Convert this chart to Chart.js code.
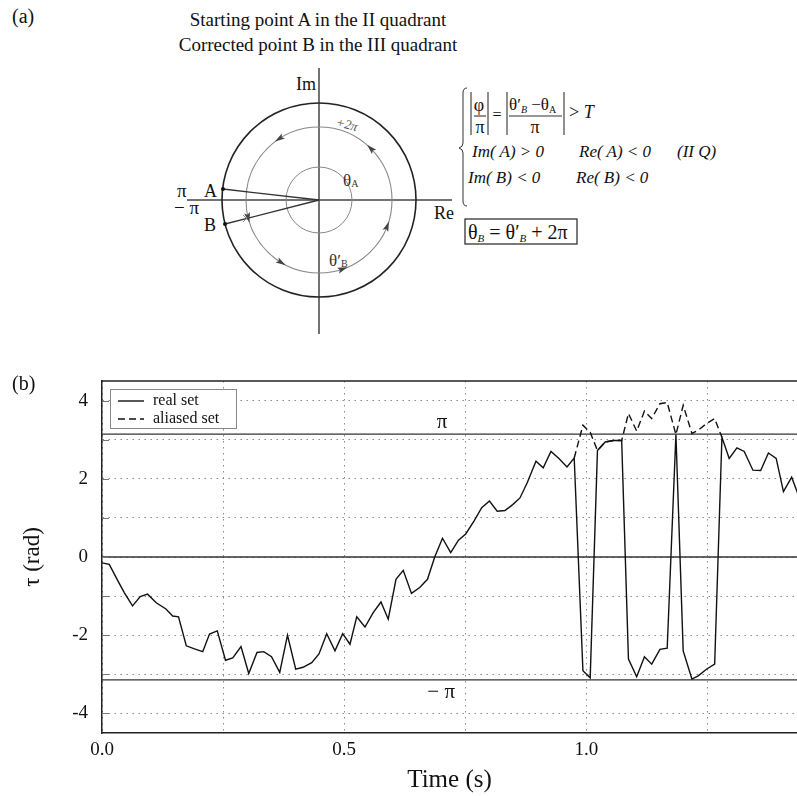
<!DOCTYPE html>
<html>
<head>
<meta charset="utf-8">
<title>Phase unwrapping</title>
<script src="https://cdn.jsdelivr.net/npm/chart.js@4.4.1/dist/chart.umd.min.js"></script>
<style>
  html, body { margin: 0; padding: 0; background: #fff; overflow: hidden; }
  body { width: 797px; height: 796px; position: relative; font-family: "Liberation Serif", serif; color: #111; }
  #diagram { position: absolute; left: 0; top: 0; }
  #tau { position: absolute; left: 0; top: 340px; }
  #panelB { position: absolute; left: 12px; top: 372px; font-size: 20px; }
</style>
</head>
<body>

<!-- panel (a): unit circle sketch and wrap condition -->
<svg id="diagram" width="797" height="338" viewBox="0 0 797 338" font-family="Liberation Serif, serif" fill="#111">
  <text x="12" y="23" font-size="20">(a)</text>
  <text x="318" y="26" font-size="19" text-anchor="middle">Starting point A in the II quadrant</text>
  <text x="318" y="51" font-size="19" text-anchor="middle">Corrected point B in the III quadrant</text>

  <g fill="none">
    <line x1="319" y1="68" x2="319" y2="334" stroke="#444" stroke-width="1.5"/>
    <line x1="187" y1="200" x2="452" y2="200" stroke="#444" stroke-width="1.5"/>
    <circle cx="319" cy="200" r="97" stroke="#222" stroke-width="1.6"/>
    <circle cx="319" cy="200" r="73" stroke="#888" stroke-width="1.1"/>
    <circle cx="319" cy="200" r="33" stroke="#888" stroke-width="1"/>
    <line x1="319" y1="200" x2="223" y2="189" stroke="#333" stroke-width="1.3"/>
    <line x1="319" y1="200" x2="225" y2="224" stroke="#333" stroke-width="1.3"/>
    <path d="M243,215 l7,7 M250,215 l-7,7" stroke="#888" stroke-width="1"/>
  </g>
  <circle cx="223" cy="189" r="2"/>
  <circle cx="225" cy="224" r="2"/>
  <g id="arrows" fill="#444"></g>

  <text x="177" y="197" font-size="19">π</text>
  <text x="204" y="197" font-size="18">A</text>
  <text x="174" y="214" font-size="19">− π</text>
  <text x="204" y="231" font-size="18">B</text>
  <text x="296" y="90" font-size="18">Im</text>
  <text x="434" y="219" font-size="18">Re</text>
  <text x="336" y="128" font-size="13" font-style="italic" fill="#555" transform="rotate(14 344 124)">+2π</text>
  <text x="343" y="186" font-size="17" fill="#333">θ<tspan font-size="10" dy="1">A</tspan></text>
  <text x="329" y="266" font-size="17" fill="#333">θ′<tspan font-size="10" dy="1">B</tspan></text>

  <!-- condition block -->
  <path d="M467,88 q-4,0 -4,5 v50 q0,4 -4,5 q4,1 4,5 v48 q0,5 4,5" fill="none" stroke="#333" stroke-width="1"/>
  <g stroke="#333" stroke-width="1.1">
    <line x1="471" y1="92" x2="471" y2="135"/>
    <line x1="488" y1="92" x2="488" y2="135"/>
    <line x1="507" y1="92" x2="507" y2="135"/>
    <line x1="564" y1="92" x2="564" y2="135"/>
    <line x1="474" y1="116" x2="486" y2="116"/>
    <line x1="509" y1="116" x2="562" y2="116"/>
  </g>
  <text x="479" y="111" font-size="18" text-anchor="middle">φ</text>
  <text x="480" y="133" font-size="18" text-anchor="middle">π</text>
  <text x="497" y="120" font-size="16" text-anchor="middle">=</text>
  <text x="509" y="110" font-size="17">θ′<tspan font-size="10" font-style="italic" dy="3">B</tspan><tspan dy="-3"> −θ</tspan><tspan font-size="10" dy="3">A</tspan></text>
  <text x="535" y="133" font-size="18" text-anchor="middle">π</text>
  <text x="569" y="118" font-size="18">&gt; <tspan font-style="italic">T</tspan></text>

  <g font-size="17" font-style="italic">
    <text x="472" y="157">Im( A) &gt; 0</text>
    <text x="579" y="157">Re( A) &lt; 0</text>
    <text x="677" y="157">(II  Q)</text>
    <text x="468" y="183">Im( B) &lt; 0</text>
    <text x="576" y="183">Re( B) &lt; 0</text>
  </g>

  <rect x="465" y="219" width="112" height="25" fill="none" stroke="#333" stroke-width="1.3"/>
  <text x="468" y="239" font-size="20">θ<tspan font-size="11" font-style="italic" dy="3">B</tspan><tspan dy="-3"> = θ′</tspan><tspan font-size="11" font-style="italic" dy="3">B</tspan><tspan dy="-3"> + 2π</tspan></text>
</svg>

<canvas id="tau" width="797" height="456"></canvas>
<div id="panelB">(b)</div>

<script>
// sampled phase, real (unwrapped-to-range) set
const times = [0.000, 0.015, 0.032, 0.046, 0.063, 0.079, 0.094, 0.112, 0.132, 0.146,
  0.158, 0.174, 0.191, 0.208, 0.222, 0.238, 0.255, 0.270, 0.287, 0.303,
  0.320, 0.334, 0.350, 0.367, 0.383, 0.400, 0.415, 0.433, 0.448, 0.464,
  0.481, 0.497, 0.512, 0.526, 0.543, 0.560, 0.576, 0.591, 0.607, 0.622,
  0.639, 0.656, 0.672, 0.687, 0.703, 0.720, 0.736, 0.751, 0.768, 0.784,
  0.800, 0.816, 0.832, 0.848, 0.863, 0.878, 0.896, 0.911, 0.927, 0.944,
  0.960, 0.975, 0.993, 1.008, 1.023, 1.039, 1.056, 1.073, 1.087, 1.104,
  1.120, 1.135, 1.152, 1.167, 1.185, 1.200, 1.218, 1.231, 1.248, 1.265,
  1.280, 1.295, 1.311, 1.326, 1.344, 1.360, 1.376, 1.392, 1.407, 1.424, 1.440];
const realTau = [-0.15, -0.19, -0.59, -0.91, -1.25, -1.01, -0.95, -1.17, -1.33, -1.51,
  -1.53, -2.27, -2.35, -2.42, -1.97, -1.89, -2.64, -2.58, -2.29, -2.98,
  -2.44, -2.42, -2.55, -2.95, -2.00, -2.87, -2.82, -2.70, -2.48, -1.96,
  -2.40, -1.96, -2.23, -1.53, -1.79, -1.42, -1.15, -1.59, -0.57, -0.34,
  -0.93, -0.78, -0.57, 0.00, 0.48, 0.11, 0.43, 0.59, 0.92, 1.26,
  1.43, 1.17, 1.19, 1.34, 1.51, 1.90, 2.45, 2.28, 2.70, 2.51,
  2.30, 2.53, -2.91, -3.09, 2.72, 2.94, 2.98, 2.98, -2.61, -3.06,
  -2.55, -2.74, -2.36, -2.33, 3.13, -2.40, -3.12, -3.04, -2.87, -2.74,
  3.06, 2.52, 2.79, 2.70, 2.22, 2.21, 2.66, 2.52, 1.67, 2.04, 1.51];

// aliased set, only where it leaves the real one
const aliasTimes = [0.975, 0.993, 1.008, 1.023, 1.039, 1.056, 1.073, 1.087, 1.104, 1.120,
  1.135, 1.152, 1.167, 1.185, 1.200, 1.218, 1.231, 1.248, 1.265, 1.280];
const aliasTau = [2.53, 3.37, 3.19, 2.72, 2.94, 2.98, 2.98, 3.67, 3.22, 3.73,
  3.54, 3.92, 3.95, 3.13, 3.88, 3.16, 3.24, 3.41, 3.54, 3.06];

const xGrid = [0, 0.25, 0.5, 0.75, 1.0, 1.25];
const xLabelled = [0, 0.5, 1.0];
const yGrid = [-4, -3, -2, -1, 0, 1, 2, 3, 4];
const yLabelled = [-4, -2, 0, 2, 4];
const refLevels = [0, Math.PI, -Math.PI];
const xMax = 1.435;

const serif = '"Liberation Serif", "Times New Roman", serif';

// arrowheads running round the middle circle
(function () {
  const g = document.getElementById('arrows');
  const cx = 319, cy = 200, r = 73;
  [123, 45, 194, 239, 289, 339].forEach(function (deg) {
    const a = deg * Math.PI / 180;
    const px = cx + r * Math.cos(a), py = cy - r * Math.sin(a);
    const dir = Math.atan2(-Math.cos(a), -Math.sin(a)) * 180 / Math.PI;
    const p = document.createElementNS('http://www.w3.org/2000/svg', 'path');
    p.setAttribute('d', 'M5,0 L-5,-3 L-3,0 L-5,3 Z');
    p.setAttribute('transform', 'translate(' + px.toFixed(1) + ',' + py.toFixed(1) + ') rotate(' + dir.toFixed(1) + ')');
    g.appendChild(p);
  });
})();

function pairs(xs, ys) {
  return xs.map(function (t, i) { return { x: t, y: ys[i] }; });
}

const extras = {
  id: 'extras',
  afterDatasetsDraw(chart) {
    const ctx = chart.ctx, a = chart.chartArea, x = chart.scales.x, y = chart.scales.y;
    ctx.save();
    // top frame
    ctx.strokeStyle = '#222';
    ctx.lineWidth = 1.5;
    ctx.beginPath();
    ctx.moveTo(a.left, a.top);
    ctx.lineTo(a.right, a.top);
    ctx.stroke();

    // short ticks inside the left edge
    ctx.strokeStyle = '#777';
    ctx.lineWidth = 1;
    yGrid.forEach(function (v) {
      const py = Math.round(y.getPixelForValue(v)) + 0.5;
      ctx.beginPath();
      ctx.moveTo(a.left, py);
      ctx.lineTo(a.left + 7, py);
      ctx.stroke();
    });

    // level labels
    ctx.fillStyle = '#111';
    ctx.font = '21px ' + serif;
    ctx.textBaseline = 'middle';
    ctx.textAlign = 'center';
    ctx.fillText('π', x.getPixelForValue(0.702), y.getPixelForValue(3.45));
    ctx.textAlign = 'right';
    ctx.fillText('− π', x.getPixelForValue(0.729), y.getPixelForValue(-3.47));

    // legend box
    const lx = a.left + 8, ly = a.top + 8;
    ctx.fillStyle = '#fff';
    ctx.fillRect(lx, ly, 126, 39);
    ctx.strokeStyle = '#888';
    ctx.lineWidth = 1;
    ctx.strokeRect(lx + 0.5, ly + 0.5, 126, 39);
    ctx.font = '16px ' + serif;
    ctx.textAlign = 'left';
    chart.data.datasets.slice(0, 2).forEach(function (ds, i) {
      const yy = ly + 12 + i * 18;
      ctx.strokeStyle = '#111';
      ctx.lineWidth = 1.4;
      ctx.setLineDash(ds.borderDash || []);
      ctx.beginPath();
      ctx.moveTo(lx + 8, yy);
      ctx.lineTo(lx + 34, yy);
      ctx.stroke();
      ctx.setLineDash([]);
      ctx.fillStyle = '#111';
      ctx.fillText(ds.label, lx + 43, yy);
    });
    ctx.restore();
  }
};

const datasets = [
  { label: 'real set', data: pairs(times, realTau), borderColor: '#111', borderWidth: 1.4 },
  { label: 'aliased set', data: pairs(aliasTimes, aliasTau), borderColor: '#111', borderWidth: 1.4, borderDash: [7, 4] }
];
refLevels.forEach(function (v) {
  datasets.push({ label: '', data: [{ x: 0, y: v }, { x: xMax, y: v }], borderColor: '#333', borderWidth: 1.4 });
});

new Chart(document.getElementById('tau'), {
  type: 'line',
  data: { datasets: datasets },
  options: {
    responsive: false,
    animation: false,
    layout: { padding: { top: 41, right: 0, left: 0, bottom: 0 } },
    elements: { point: { radius: 0 }, line: { tension: 0, fill: false } },
    plugins: { legend: { display: false }, tooltip: { enabled: false } },
    scales: {
      x: {
        type: 'linear',
        min: 0,
        max: xMax,
        afterBuildTicks: function (s) { s.ticks = xGrid.map(function (v) { return { value: v }; }); },
        afterFit: function (s) { s.height = 63; },
        ticks: {
          autoSkip: false,
          maxRotation: 0,
          padding: 6,
          color: '#111',
          font: { family: serif, size: 19 },
          callback: function (v) { return xLabelled.indexOf(v) >= 0 ? v.toFixed(1) : ''; }
        },
        grid: { color: '#8a8a8a', lineWidth: 1, drawTicks: false },
        border: { display: true, color: '#222', width: 1.5, dash: [1.5, 4.5] },
        title: { display: true, text: 'Time (s)', color: '#111', font: { family: serif, size: 25, lineHeight: 1.2 }, padding: { top: 0, bottom: 1 } }
      },
      y: {
        min: -4.5,
        max: 4.5,
        afterBuildTicks: function (s) { s.ticks = yGrid.map(function (v) { return { value: v }; }); },
        afterFit: function (s) { s.width = 102; },
        ticks: {
          padding: 14,
          color: '#111',
          font: { family: serif, size: 19 },
          callback: function (v) { return yLabelled.indexOf(v) >= 0 ? String(v) : ''; }
        },
        grid: { color: '#8a8a8a', lineWidth: 1, drawTicks: false },
        border: { display: true, color: '#222', width: 1.5, dash: [1.5, 4.5] },
        title: { display: true, text: 'τ (rad)', color: '#111', font: { family: serif, size: 23, lineHeight: 1.2 }, padding: { top: 19, bottom: 0 } }
      }
    }
  },
  plugins: [extras]
});
</script>
</body>
</html>
